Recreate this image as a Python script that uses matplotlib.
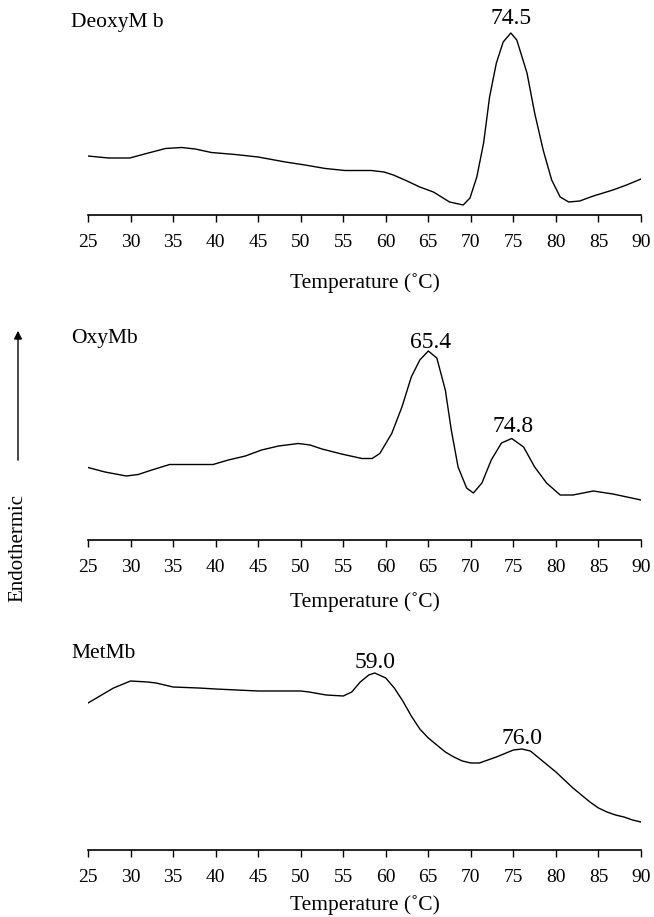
import matplotlib
matplotlib.use("Agg")
import matplotlib.pyplot as plt

plt.rcParams['font.family'] = ['Liberation Serif', 'DejaVu Serif']

# DSC traces, heights above baseline (arbitrary units)
t_deoxy = [25, 27.4, 29.9, 32.1, 34.1, 36.0, 37.6, 39.5, 42.3, 45.0, 48.2, 50.5, 52.9, 55.2, 58.3,
           59.8, 60.9, 62.5, 64.0, 65.6, 67.5, 69.1, 69.9, 70.7, 71.5, 72.2, 73.0, 73.8, 74.7, 75.4,
           76.6, 77.5, 78.5, 79.5, 80.5, 81.5, 82.8, 84.4, 86.7, 88.3, 90]
h_deoxy = [59, 57, 57, 62, 66.5, 67.5, 66, 62.5, 60.5, 58, 53, 50, 46.5, 44.5, 44.5,
           43, 40, 34, 28, 23, 13, 10, 17, 38, 72, 118, 152, 173, 182, 175,
           142, 102, 65, 35, 18, 13, 14, 19, 25, 30, 36]

t_oxy = [25, 27.0, 29.5, 30.9, 32.5, 34.6, 39.7, 41.5, 43.5, 45.4, 47.4, 49.7, 51.1, 52.5, 54.8,
         57.2, 58.4, 59.3, 60.7, 61.9, 63.0, 64.0, 65.0, 66.0, 67.0, 67.7, 68.5, 69.5, 70.3, 71.3,
         72.4, 73.6, 74.8, 76.2, 77.5, 78.9, 80.5, 82.0, 84.4, 86.7, 90]
h_oxy = [72.5, 68, 64, 65.5, 70, 75.5, 75.5, 80, 84, 90, 94, 96.5, 95, 91, 86,
         81.5, 81.5, 86.5, 106.5, 133, 163, 180, 189, 182, 150, 110, 73, 52, 47, 57,
         80, 97, 101.5, 93, 73, 57, 45, 45, 49, 46, 40]

t_met = [25, 28, 30, 32, 33, 35, 38, 40, 45, 50, 51, 53, 55, 56, 57, 58, 58.7, 60, 61, 62, 63, 64,
         65, 66, 67, 68, 69, 70, 71, 73, 75, 76, 77, 78, 79, 80, 81, 82, 83, 84, 85, 86, 87, 88, 89, 90]
h_met = [147, 162, 169, 168, 167, 163, 162, 161, 159, 159, 158, 155, 154, 158, 168, 175, 177, 172, 162, 149, 134, 121,
         112, 105, 98, 93, 89, 87, 87, 93, 100, 101, 99, 92, 85, 78, 70, 62, 55, 48, 42, 38, 35, 33, 30, 28]

names = ['DeoxyM b', 'OxyMb', 'MetMb']
peaks = [[('74.5', 74.7, 197)],
         [('65.4', 65.3, 198), ('74.8', 75.0, 113)],
         [('59.0', 58.7, 187), ('76.0', 76.0, 112)]]
ticks = list(range(25, 95, 5))

fig = plt.figure(figsize=(6.54, 9.17), dpi=100)
W, H = 654, 917
x0, x1 = 88, 641
# (top px, axis px, name y, xlabel top px)
panels = [(0, 215, 192, 273), (300, 540, 202, 592), (620, 850, 197, 895)]
data = [(t_deoxy, h_deoxy), (t_oxy, h_oxy), (t_met, h_met)]

for i, (top, bot, ny, xl) in enumerate(panels):
    ax = fig.add_axes([x0 / W, (H - bot) / H, (x1 - x0) / W, (bot - top) / H])
    t, h = data[i]
    ax.plot(t, h, color='black', lw=1.0)
    ax.set_xlim(25, 90)
    ax.set_ylim(0, bot - top)
    for s in ['top', 'right', 'left']:
        ax.spines[s].set_visible(False)
    ax.spines['bottom'].set_linewidth(1.2)
    ax.set_yticks([])
    ax.set_xticks(ticks)
    ax.tick_params(axis='x', direction='out', length=5, width=1.0, pad=9, labelsize=14)
    ax.set_xlabel('Temperature (˚C)', fontsize=15.5)
    ax.xaxis.set_label_coords(0.5, -(xl - bot) / (bot - top))
    ax.text(23.0, ny, names[i], fontsize=15.5, ha='left', va='center')
    for lab, px, py in peaks[i]:
        ax.text(px, py, lab, fontsize=17, ha='center', va='center')

ax0 = fig.axes[0]
ax0.annotate('', xy=(18, H - 328), xytext=(18, H - 463), xycoords='figure pixels',
             textcoords='figure pixels',
             arrowprops=dict(arrowstyle='-|>', color='black', lw=1.0, mutation_scale=12))
fig.text(18 / W, 1 - 548 / H, 'Endothermic', rotation=90, ha='center', va='center', fontsize=15)

fig.savefig('out.png', dpi=100)
